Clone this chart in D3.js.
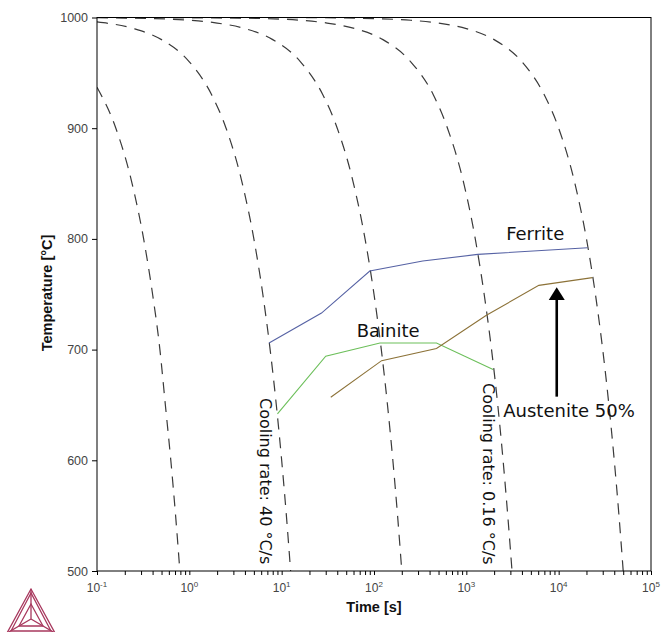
<!DOCTYPE html>
<html>
<head>
<meta charset="utf-8">
<script src="https://cdn.jsdelivr.net/npm/d3@7.9.0/dist/d3.min.js"></script>
<style>
  body { margin: 0; background: #fff; }
  svg { display: block; }
</style>
</head>
<body>
<svg id="chart"></svg>
<script>
// cooling curves (time s, temperature °C)
const cool631 = [[0.1,937],[0.16,900],[0.24,850],[0.32,800],[0.4,750],[0.48,700],[0.55,650],[0.63,600],[0.71,550],[0.79,500]];
const cool40 = [[0.1,996],[0.25,990],[0.5,980],[1,960],[1.75,930],[2.5,900],[3.75,850],[5,800],[6.25,750],[7.5,700],[8.75,650],[10,600],[11.25,550],[12.5,500]];
const cool2_5 = [[0.1,999.8],[0.4,999],[1,997.5],[2,995],[4,990],[8,980],[16,960],[28,930],[40,900],[60,850],[80,800],[100,750],[120,700],[140,650],[160,600],[180,550],[200,500]];
const cool016 = [[0.1,1000],[1.6,999.8],[6.25,999],[16,997.5],[31,995],[62,990],[125,980],[250,960],[440,930],[625,900],[940,850],[1250,800],[1560,750],[1875,700],[2190,650],[2500,600],[2810,550],[3125,500]];
const cool001 = [[0.1,1000],[25,999.8],[100,999],[250,997.5],[500,995],[1000,990],[2000,980],[4000,960],[7000,930],[10000,900],[15000,850],[20000,800],[25000,750],[30000,700],[35000,650],[40000,600],[45000,550],[50000,500]];

// phase transformation lines
const ferriteTime = [7.3, 27, 90, 337, 1330, 20600];
const ferriteTemp = [706, 733, 771, 780, 786, 792];
const bainiteTime = [9.0, 30, 116, 475, 1950];
const bainiteTemp = [642, 694, 706, 706, 682];
const austeniteTime = [34, 121, 475, 1650, 6100, 23200];
const austeniteTemp = [657, 690, 701, 731, 758, 765];

const xDecades = [-1, 0, 1, 2, 3, 4, 5];
const yTicks = [500, 600, 700, 800, 900, 1000];

const W = 669, H = 632;
const margin = {top: 17.5, right: 18, bottom: 61, left: 97};

const svg = d3.select("#chart").attr("width", W).attr("height", H);

const x = d3.scaleLog().domain([0.1, 1e5]).range([margin.left, W - margin.right]);
const y = d3.scaleLinear().domain([500, 1000]).range([H - margin.bottom, margin.top]);

svg.append("defs").append("clipPath").attr("id", "plotclip")
  .append("rect")
  .attr("x", x.range()[0]).attr("y", y.range()[1])
  .attr("width", x.range()[1] - x.range()[0])
  .attr("height", y.range()[0] - y.range()[1]);

const plot = svg.append("g").attr("clip-path", "url(#plotclip)");

// dashed cooling curves
const coolLine = d3.line().x(d => x(d[0])).y(d => y(d[1])).curve(d3.curveMonotoneX);
[cool631, cool40, cool2_5, cool016, cool001].forEach(c => {
  plot.append("path")
    .attr("d", coolLine(c))
    .attr("fill", "none")
    .attr("stroke", "#3a3a3a")
    .attr("stroke-width", 1.2)
    .attr("stroke-dasharray", "11,8");
});

// phase lines
const phaseLine = d3.line().x(d => x(d[0])).y(d => y(d[1]));
const phases = [
  {t: ferriteTime, T: ferriteTemp, color: "#5662a4"},
  {t: bainiteTime, T: bainiteTemp, color: "#6cbf5a"},
  {t: austeniteTime, T: austeniteTemp, color: "#8c7238"}
];
phases.forEach(p => {
  plot.append("path")
    .attr("d", phaseLine(p.t.map((v, i) => [v, p.T[i]])))
    .attr("fill", "none")
    .attr("stroke", p.color)
    .attr("stroke-width", 1.1);
});

// frame
svg.append("rect")
  .attr("x", x.range()[0]).attr("y", y.range()[1])
  .attr("width", x.range()[1] - x.range()[0])
  .attr("height", y.range()[0] - y.range()[1])
  .attr("fill", "none").attr("stroke", "#000").attr("stroke-width", 1);

// x axis ticks
const minor = [];
xDecades.slice(0, -1).forEach(e => { for (let k = 2; k <= 9; k++) minor.push(k * Math.pow(10, e)); });
const xAxis = svg.append("g").attr("transform", `translate(0,${y.range()[0]})`);
xAxis.call(d3.axisBottom(x).tickValues(xDecades.map(e => Math.pow(10, e)).concat(minor)).tickSize(4).tickFormat(""));
xAxis.select(".domain").remove();
xAxis.selectAll("line").attr("stroke", "#000");

const xl = svg.append("g").attr("font-family", "Liberation Sans, Arial, sans-serif").attr("fill", "#444");
xDecades.forEach(e => {
  const t = xl.append("text")
    .attr("x", x(Math.pow(10, e)))
    .attr("y", y.range()[0] + 21)
    .attr("text-anchor", "middle")
    .attr("font-size", 12);
  t.append("tspan").text("10");
  t.append("tspan").attr("dy", -5).attr("font-size", 8).text(e);
});

// y axis
const yAxis = svg.append("g").attr("transform", `translate(${x.range()[0]},0)`);
yAxis.call(d3.axisLeft(y).tickValues(yTicks).tickSize(5).tickPadding(4).tickFormat(d3.format("d")));
yAxis.select(".domain").remove();
yAxis.selectAll("line").attr("stroke", "#000");
yAxis.selectAll("text")
  .attr("font-family", "Liberation Sans, Arial, sans-serif")
  .attr("font-size", 12.5)
  .attr("fill", "#444");

// axis titles
svg.append("text")
  .attr("x", (x.range()[0] + x.range()[1]) / 2)
  .attr("y", H - 20)
  .attr("text-anchor", "middle")
  .attr("font-family", "Liberation Sans, Arial, sans-serif")
  .attr("font-weight", "bold").attr("font-size", 14.5)
  .attr("fill", "#111")
  .text("Time [s]");

svg.append("text")
  .attr("transform", `translate(52,293) rotate(-90)`)
  .attr("text-anchor", "middle")
  .attr("font-family", "Liberation Sans, Arial, sans-serif")
  .attr("font-weight", "bold").attr("font-size", 14.5)
  .attr("fill", "#111")
  .text("Temperature [°C]");

// annotations
const ann = svg.append("g").attr("font-family", "DejaVu Sans, Verdana, sans-serif").attr("fill", "#111");
ann.append("text").attr("x", x(2700)).attr("y", y(799)).attr("font-size", 18).text("Ferrite");
ann.append("text").attr("x", x(65)).attr("y", y(711.4)).attr("font-size", 18).text("Bainite");
ann.append("text").attr("x", x(2512)).attr("y", y(639.4)).attr("font-size", 18).text("Austenite 50%");

ann.append("text")
  .attr("transform", `translate(${x(5.82)},${y(656.3)}) rotate(90)`)
  .attr("font-size", 16).text("Cooling rate: 40 °C/s");
ann.append("text")
  .attr("transform", `translate(${x(1517)},${y(669.8)}) rotate(90)`)
  .attr("font-size", 16).text("Cooling rate: 0.16 °C/s");

// arrow
const ax = x(9530);
svg.append("line")
  .attr("x1", ax).attr("x2", ax)
  .attr("y1", y(657.5)).attr("y2", y(746))
  .attr("stroke", "#000").attr("stroke-width", 2.6);
svg.append("path")
  .attr("d", `M${ax},${y(756.3)} L${ax - 8},${y(744.8)} L${ax + 8},${y(744.8)} Z`)
  .attr("fill", "#000");

// logo
const logo = svg.append("g").attr("fill", "none").attr("stroke", "#a8385e").attr("stroke-width", 1.3);
const A = [31, 589], B = [7, 633], C = [55, 633], O = [31, 619];
logo.append("path").attr("d", `M${A}L${B}L${C}Z`);
logo.append("path").attr("d", `M${A[0]},${A[1] + 4}L${B[0] + 4},${B[1] - 2}L${C[0] - 4},${C[1] - 2}Z`);
logo.append("path").attr("d", `M${A}L${O}M${B}L${O}M${C}L${O}`);
const mid = (p, q, f) => [p[0] + (q[0] - p[0]) * f, p[1] + (q[1] - p[1]) * f];
const a1 = mid(O, A, 0.5), b1 = mid(O, B, 0.5), c1 = mid(O, C, 0.5);
logo.append("path").attr("d", `M${a1}L${b1}L${c1}Z`);
</script>
</body>
</html>
